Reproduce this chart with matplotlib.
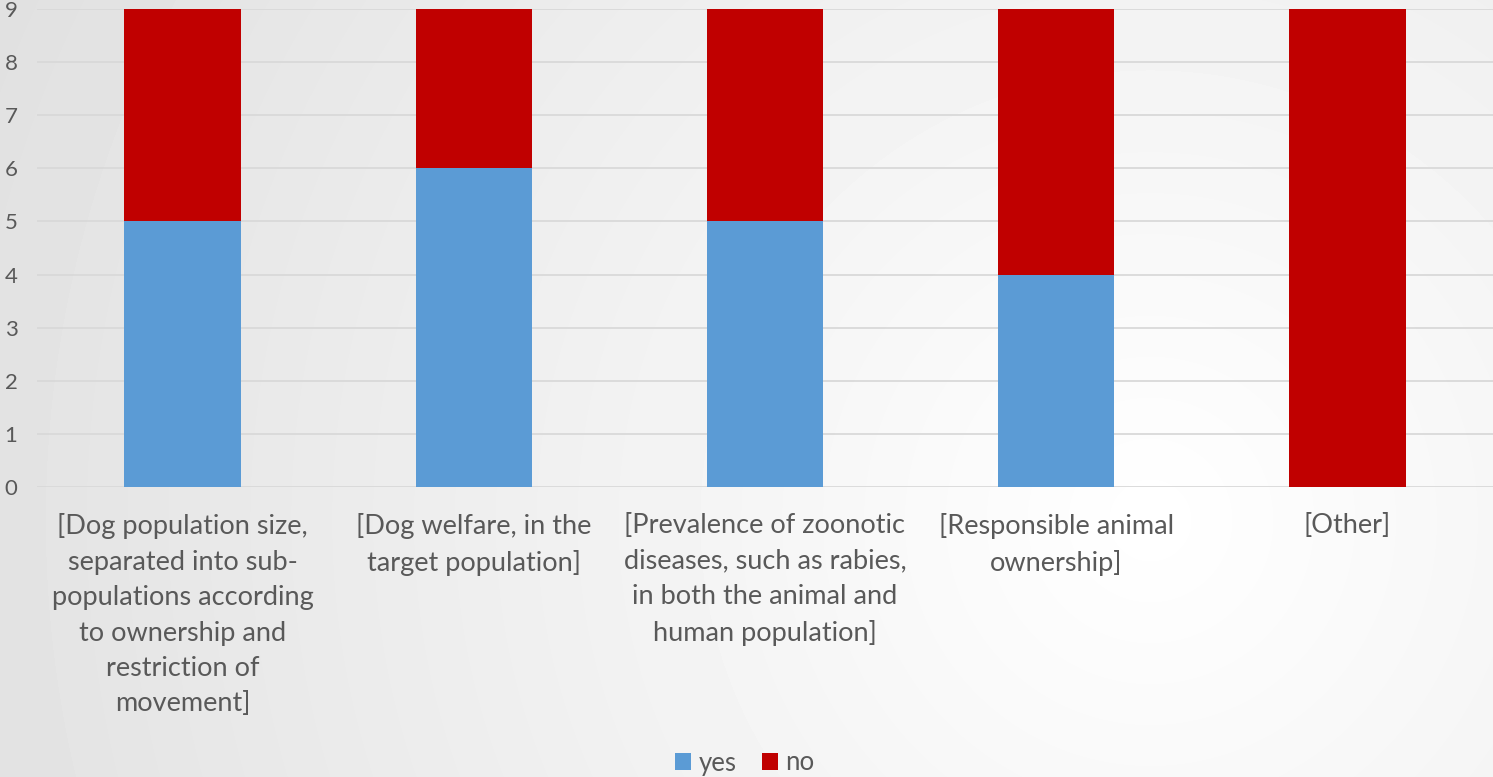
import matplotlib
matplotlib.use("Agg")
import matplotlib.pyplot as plt
import numpy as np

# donnees
categories = ["[Dog population size,\nseparated into sub-\npopulations according\nto ownership and\nrestriction of\nmovement]",
              "[Dog welfare, in the\ntarget population]",
              "[Prevalence of zoonotic\ndiseases, such as rabies,\nin both the animal and\nhuman population]",
              "[Responsible animal\nownership]",
              "[Other]"]
yes = [5, 6, 5, 4, 0]
no = [4, 3, 4, 5, 9]

blue = "#5B9BD5"
red = "#C00000"
txt = "#595959"
plt.rcParams['font.family'] = ['Lato', 'DejaVu Sans']

W, H = 1493, 777
fig = plt.figure(figsize=(W/100, H/100), dpi=100)

# fond degrade radial
bg = fig.add_axes([0, 0, 1, 1], zorder=0)
yy, xx = np.mgrid[0:H, 0:W]
d = np.sqrt((xx-1150)**2 + (yy-520)**2)
g = np.clip(255 - 28*d/1150, 225, 255)/255.
bg.imshow(g, cmap="gray", vmin=0, vmax=1, aspect="auto", interpolation="bilinear")
bg.axis("off")

ax = fig.add_axes([37/W, 1-487/H, 1-37/W, (487-9)/H], zorder=1)
ax.patch.set_alpha(0)
x = np.arange(len(categories))
ax.bar(x, yes, 0.4, color=blue, label="yes", zorder=3)
ax.bar(x, no, 0.4, bottom=yes, color=red, label="no", zorder=3)

ax.set_xlim(-0.5, len(categories)-0.5)
ax.set_ylim(0, 9)
ax.set_yticks(range(10))
ax.yaxis.grid(True, color="#d9d9d9", lw=1.3, zorder=0)
ax.set_xticks(x)
ax.set_xticklabels(categories, fontsize=19.5, color=txt, linespacing=1.52)
ax.tick_params(axis="x", length=0, pad=19)
ax.tick_params(axis="y", length=0, pad=14, labelsize=16, labelcolor=txt)
for s in ax.spines.values():
    s.set_visible(False)

fig.legend(loc="center", bbox_to_anchor=(745/W, 1-763/H), ncol=2, frameon=False,
           fontsize=18.5, labelcolor=txt, handlelength=0.6, handleheight=0.6,
           handletextpad=0.3, columnspacing=1.0)

fig.savefig("out.png", dpi=100)
